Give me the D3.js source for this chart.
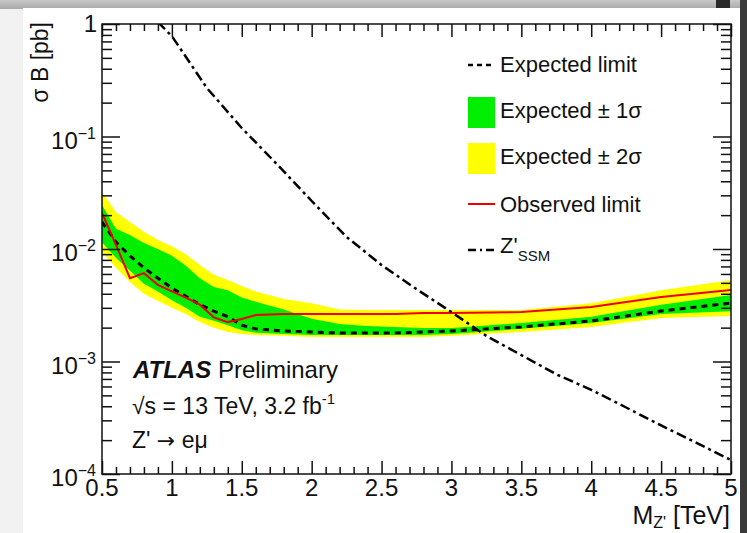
<html>
<head>
<script src="https://d3js.org/d3.v7.min.js"></script>
<style>
  body { margin: 0; background: #ccc; }
  text { font-family: "Liberation Sans", Arial, sans-serif; fill: #111; }
</style>
</head>
<body>
<div id="chart"></div>
<script>
// mass points of the expected / observed limits [TeV]
var mass = [0.5, 0.6, 0.7, 0.8, 0.9, 1.0, 1.1, 1.2, 1.3, 1.4, 1.5, 1.6, 1.8, 2.0, 2.2, 2.4, 2.6, 2.8, 3.0, 3.5, 4.0, 4.5, 5.0];
// sigma B [pb]
var expected = [0.0174, 0.0115, 0.0087, 0.0068, 0.0055, 0.0045, 0.0038, 0.0032, 0.0028, 0.0025, 0.0021, 0.00195, 0.00187, 0.00183, 0.00179, 0.00179, 0.00179, 0.00183, 0.00187, 0.00203, 0.00229, 0.00281, 0.0033];
var observed = [0.0209, 0.0109, 0.0055, 0.0061, 0.0048, 0.0042, 0.0037, 0.0032, 0.00247, 0.00224, 0.00239, 0.00259, 0.00264, 0.00264, 0.00264, 0.00264, 0.00264, 0.0027, 0.0027, 0.00275, 0.00305, 0.00374, 0.00432];
var sig1up = [0.0246, 0.0151, 0.0133, 0.0113, 0.0100, 0.0087, 0.0071, 0.0055, 0.0046, 0.0043, 0.0037, 0.0034, 0.0029, 0.0024, 0.00215, 0.00207, 0.00203, 0.00199, 0.00199, 0.0022, 0.0025, 0.0032, 0.0039];
var sig1dn = [0.0115, 0.0083, 0.0064, 0.0049, 0.0042, 0.0035, 0.0030, 0.0025, 0.0023, 0.0021, 0.0019, 0.0018, 0.00176, 0.00172, 0.00172, 0.00172, 0.00172, 0.00172, 0.00176, 0.00195, 0.0022, 0.00264, 0.0028];
var sig2up = [0.0321, 0.0213, 0.0174, 0.0142, 0.0120, 0.0106, 0.0090, 0.0072, 0.0059, 0.0053, 0.0047, 0.0042, 0.0036, 0.0033, 0.0029, 0.00287, 0.00287, 0.00287, 0.00287, 0.00287, 0.0033, 0.0043, 0.0053];
var sig2dn = [0.0094, 0.0068, 0.0051, 0.0040, 0.00345, 0.0030, 0.00264, 0.00224, 0.0020, 0.00183, 0.00176, 0.00172, 0.00169, 0.00165, 0.00165, 0.00165, 0.00165, 0.00165, 0.00169, 0.00183, 0.00203, 0.00244, 0.00254];
// Z'_SSM theory curve
var ssmMass = [0.9, 1.0, 1.25, 1.5, 1.75, 2.0, 2.25, 2.5, 2.75, 3.0, 3.25, 3.5, 3.75, 4.0, 4.25, 4.5, 4.75, 5.0];
var ssm = [1.04, 0.78, 0.27, 0.119, 0.057, 0.0267, 0.0128, 0.0072, 0.0044, 0.00275, 0.00169, 0.00114, 0.00077, 0.00056, 0.00039, 0.00027, 0.00019, 0.000133];

var xMajor = [0.5, 1, 1.5, 2, 2.5, 3, 3.5, 4, 4.5, 5];
var xLabels = ["0.5", "1", "1.5", "2", "2.5", "3", "3.5", "4", "4.5", "5"];
var yMajor = [1e-4, 1e-3, 1e-2, 1e-1, 1];
var yExp = ["\u22124", "\u22123", "\u22122", "\u22121", ""];

var W = 747, H = 533;
var L = 102, R = 731, T = 24, B = 474;

var svg = d3.select("#chart").append("svg")
    .attr("width", W).attr("height", H);

// photo-like surroundings
var defs = svg.append("defs");
var lg = defs.append("linearGradient").attr("id", "lshade").attr("x1", 0).attr("x2", 1);
lg.append("stop").attr("offset", 0).attr("stop-color", "#f2f2f2");
lg.append("stop").attr("offset", 0.7).attr("stop-color", "#d4d4d4");
lg.append("stop").attr("offset", 1).attr("stop-color", "#9a9a9a");
var tg = defs.append("linearGradient").attr("id", "tshade").attr("x1", 0).attr("x2", 0).attr("y1", 0).attr("y2", 1);
tg.append("stop").attr("offset", 0).attr("stop-color", "#c8c8c8");
tg.append("stop").attr("offset", 1).attr("stop-color", "#a8a8a8");
defs.append("clipPath").attr("id", "plotclip")
  .append("rect").attr("x", L).attr("y", T).attr("width", R - L).attr("height", B - T);

svg.append("rect").attr("width", W).attr("height", H).attr("fill", "url(#lshade)");
svg.append("rect").attr("x", 0).attr("y", 0).attr("width", W).attr("height", 9).attr("fill", "url(#tshade)");
svg.append("rect").attr("x", 23).attr("y", 8).attr("width", 717).attr("height", H).attr("fill", "#fff");
svg.append("rect").attr("x", 740).attr("y", 0).attr("width", 7).attr("height", H).attr("fill", "#3a3a3a");
svg.append("rect").attr("x", 716).attr("y", 0).attr("width", 14).attr("height", 8).attr("fill", "#2a2a2a");

var x = d3.scaleLinear().domain([0.5, 5]).range([L, R]);
var y = d3.scaleLog().domain([1e-4, 1]).range([B, T]);

var plot = svg.append("g").attr("clip-path", "url(#plotclip)");

function band(up, dn) {
  return d3.area()
    .x(function(d, i) { return x(mass[i]); })
    .y0(function(d, i) { return y(dn[i]); })
    .y1(function(d, i) { return y(up[i]); })(mass);
}
plot.append("path").attr("d", band(sig2up, sig2dn)).attr("fill", "#ffff00");
plot.append("path").attr("d", band(sig1up, sig1dn)).attr("fill", "#00ee00");

var line = function(xs, ys) {
  return d3.line()
    .x(function(d, i) { return x(xs[i]); })
    .y(function(d, i) { return y(ys[i]); })(xs);
};
plot.append("path").attr("d", line(mass, expected))
  .attr("fill", "none").attr("stroke", "#000").attr("stroke-width", 3)
  .attr("stroke-dasharray", "6,5");
plot.append("path").attr("d", line(mass, observed))
  .attr("fill", "none").attr("stroke", "#ee0000").attr("stroke-width", 2);
plot.append("path").attr("d", line(ssmMass, ssm))
  .attr("fill", "none").attr("stroke", "#000").attr("stroke-width", 2.5)
  .attr("stroke-dasharray", "10,4,3,4");

// axes, ROOT style ticks on all four sides pointing inward
var xMinor = d3.range(5, 51).map(function(v) { return v / 10; })
  .filter(function(v) { return Math.abs(v * 2 - Math.round(v * 2)) > 1e-6; });
var yMinor = [];
[-4, -3, -2, -1].forEach(function(e) {
  for (var k = 2; k <= 9; k++) yMinor.push(k * Math.pow(10, e));
});

function drawAxis(axis, tx, ty) {
  var g = svg.append("g").attr("transform", "translate(" + tx + "," + ty + ")").call(axis);
  g.select(".domain").remove();
  g.selectAll("line").attr("stroke", "#111").attr("stroke-width", 1.5);
  g.selectAll("text").remove();
  return g;
}
drawAxis(d3.axisBottom(x).tickValues(xMajor).tickSize(-13), 0, B);
drawAxis(d3.axisBottom(x).tickValues(xMinor).tickSize(-7), 0, B);
drawAxis(d3.axisTop(x).tickValues(xMajor).tickSize(-13), 0, T);
drawAxis(d3.axisTop(x).tickValues(xMinor).tickSize(-7), 0, T);
drawAxis(d3.axisLeft(y).tickValues(yMajor).tickSize(-18), L, 0);
drawAxis(d3.axisLeft(y).tickValues(yMinor).tickSize(-10), L, 0);
drawAxis(d3.axisRight(y).tickValues(yMajor).tickSize(-18), R, 0);
drawAxis(d3.axisRight(y).tickValues(yMinor).tickSize(-10), R, 0);

svg.append("rect").attr("x", L).attr("y", T).attr("width", R - L).attr("height", B - T)
  .attr("fill", "none").attr("stroke", "#111").attr("stroke-width", 1.5);

// tick labels
svg.selectAll(".xl").data(xMajor).enter().append("text")
  .attr("x", function(d) { return x(d); }).attr("y", B + 22)
  .attr("text-anchor", "middle").attr("font-size", 24)
  .text(function(d, i) { return xLabels[i]; });

yMajor.forEach(function(v, i) {
  var t = svg.append("text").attr("text-anchor", "end").attr("font-size", 24);
  if (yExp[i] === "") {
    t.attr("x", 97).attr("y", y(v) + 8).text("1");
  } else {
    t.attr("x", 96).attr("y", y(v) + 12);
    t.append("tspan").text("10");
    t.append("tspan").attr("font-size", 16).attr("dy", -10).text(yExp[i]);
  }
});

// axis titles
svg.append("text").attr("transform", "translate(48,22) rotate(-90)")
  .attr("text-anchor", "end").attr("font-size", 23).text("\u03c3 B [pb]");
var xt = svg.append("text").attr("x", 730).attr("y", 524)
  .attr("text-anchor", "end").attr("font-size", 25);
xt.append("tspan").text("M");
xt.append("tspan").attr("font-size", 16).attr("dy", 4).text("Z'");
xt.append("tspan").attr("dy", -4).text(" [TeV]");

// legend
var lx0 = 468, lx1 = 495, tx = 500;
svg.append("line").attr("x1", lx0).attr("x2", lx1).attr("y1", 65).attr("y2", 65)
  .attr("stroke", "#000").attr("stroke-width", 2.5).attr("stroke-dasharray", "5,4");
svg.append("rect").attr("x", lx0).attr("y", 97).attr("width", lx1 - lx0).attr("height", 31).attr("fill", "#00ee00");
svg.append("rect").attr("x", lx0).attr("y", 143).attr("width", lx1 - lx0).attr("height", 31).attr("fill", "#ffff00");
svg.append("line").attr("x1", lx0).attr("x2", lx1).attr("y1", 204).attr("y2", 204)
  .attr("stroke", "#ee0000").attr("stroke-width", 2);
svg.append("line").attr("x1", lx0).attr("x2", lx1).attr("y1", 250).attr("y2", 250)
  .attr("stroke", "#000").attr("stroke-width", 2.5).attr("stroke-dasharray", "8,4,2,4");

var legText = ["Expected limit", "Expected \u00b1 1\u03c3", "Expected \u00b1 2\u03c3", "Observed limit"];
var legY = [72, 118, 164, 212];
legText.forEach(function(s, i) {
  svg.append("text").attr("x", tx).attr("y", legY[i]).attr("font-size", 22).text(s);
});
var zl = svg.append("text").attr("x", tx).attr("y", 253).attr("font-size", 22);
zl.append("tspan").text("Z'");
zl.append("tspan").attr("font-size", 15).attr("dy", 8).text("SSM");

// ATLAS label
var at = svg.append("text").attr("x", 133).attr("y", 378).attr("font-size", 24);
at.append("tspan").attr("font-weight", "bold").attr("font-style", "italic").text("ATLAS");
at.append("tspan").text(" Preliminary");
var en = svg.append("text").attr("x", 132).attr("y", 414).attr("font-size", 23);
en.append("tspan").text("\u221as = 13 TeV, 3.2 fb");
en.append("tspan").attr("font-size", 15).attr("dy", -10).text("-1");
var zt = svg.append("text").attr("x", 132).attr("y", 448).attr("font-size", 23);
zt.append("tspan").text("Z' ");
zt.append("tspan").attr("font-family", "DejaVu Sans").attr("font-size", 22).text("\u2192");
zt.append("tspan").text(" e\u03bc");
</script>
</body>
</html>
